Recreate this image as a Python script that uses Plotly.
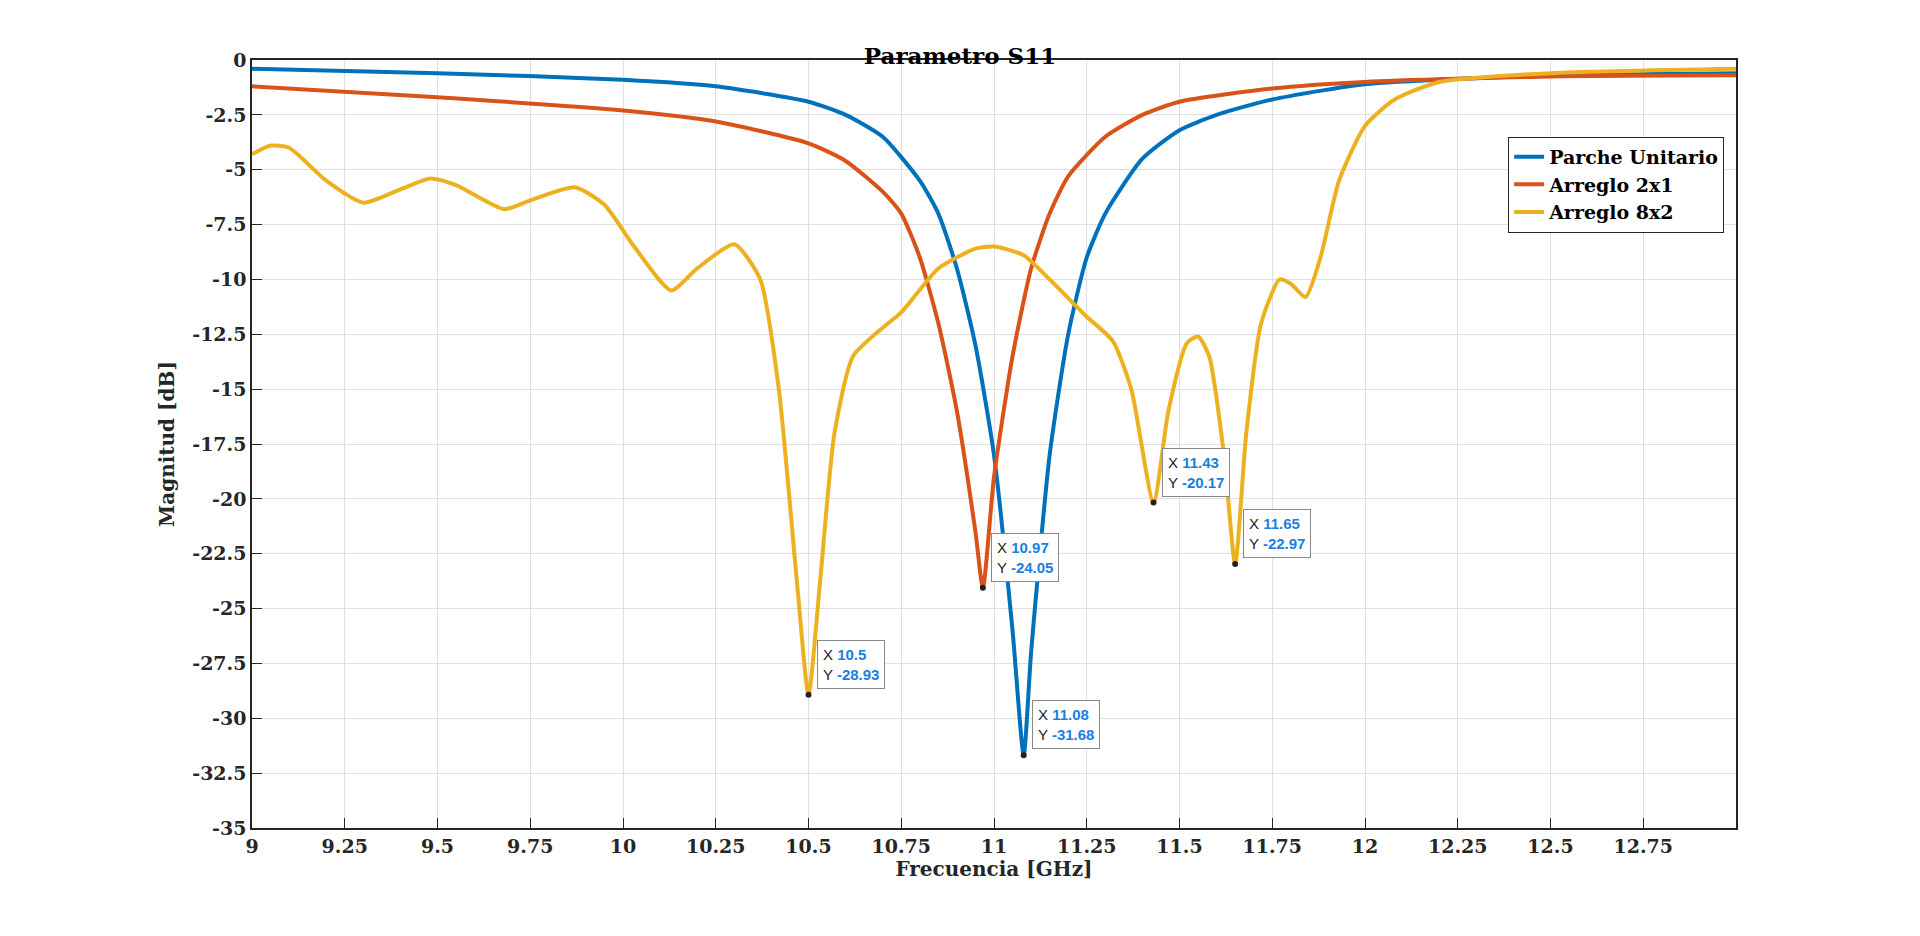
import plotly.graph_objects as go

x_pu = [9, 9.5, 10, 10.25, 10.5, 10.6, 10.7, 10.8, 10.85, 10.9, 10.95, 11.0, 11.05, 11.08, 11.1, 11.15, 11.2, 11.25, 11.3, 11.4, 11.5, 11.6, 11.75, 12, 12.5, 13]
y_pu = [-0.4, -0.6, -0.9, -1.2, -1.9, -2.5, -3.5, -5.5, -7, -9.5, -13, -18, -26, -31.68, -27, -18, -12.5, -9, -7, -4.5, -3.2, -2.5, -1.8, -1.1, -0.7, -0.6]

x_21 = [9, 9.5, 10, 10.25, 10.5, 10.6, 10.7, 10.75, 10.8, 10.85, 10.9, 10.95, 10.97, 11.0, 11.05, 11.1, 11.15, 11.2, 11.3, 11.4, 11.5, 11.75, 12, 12.5, 13]
y_21 = [-1.2, -1.7, -2.3, -2.8, -3.8, -4.6, -6, -7, -9, -12, -16, -21.5, -24.05, -19, -13.5, -9.5, -7, -5.3, -3.5, -2.5, -1.9, -1.3, -1.0, -0.75, -0.7]

x_82 = [9, 9.05, 9.1, 9.2, 9.3, 9.4, 9.48, 9.55, 9.68, 9.75, 9.87, 9.95, 10.03, 10.13, 10.2, 10.3, 10.37, 10.42, 10.47, 10.5, 10.53, 10.57, 10.62, 10.7, 10.75, 10.85, 10.95, 11.0, 11.08, 11.15, 11.25, 11.32, 11.37, 11.43, 11.47, 11.52, 11.55, 11.58, 11.62, 11.65, 11.68, 11.72, 11.77, 11.8, 11.84, 11.88, 11.93, 12.0, 12.08, 12.2, 12.5, 13]
y_82 = [-4.3, -3.9, -4.0, -5.5, -6.5, -5.9, -5.4, -5.7, -6.8, -6.4, -5.8, -6.6, -8.5, -10.5, -9.5, -8.4, -10, -15, -24, -28.93, -24, -17, -13.5, -12.2, -11.5, -9.5, -8.6, -8.5, -8.9, -10, -11.7, -12.8, -15, -20.17, -16, -12.9, -12.6, -13.5, -18, -22.97, -17, -12, -10, -10.2, -10.8, -9, -5.5, -3, -1.8, -1.0, -0.6, -0.4]

tip_x = [10.5, 10.97, 11.08, 11.43, 11.65]
tip_y = [-28.93, -24.05, -31.68, -20.17, -22.97]

names = ["Parche Unitario", "Arreglo 2x1", "Arreglo 8x2"]
colors = ["#0072BD", "#D95319", "#EDB120"]

fig = go.Figure()
for xs, ys, n, c in zip([x_pu, x_21, x_82], [y_pu, y_21, y_82], names, colors):
    fig.add_trace(go.Scatter(x=xs, y=ys, name=f"<b>{n}</b>", mode="lines",
                             line=dict(color=c, width=4, shape="spline", smoothing=0.6)))
fig.add_trace(go.Scatter(x=tip_x, y=tip_y, mode="markers", showlegend=False,
                         marker=dict(color="#222", size=6)))

for tx, ty in zip(tip_x, tip_y):
    fig.add_annotation(x=tx, y=ty, xref="x", yref="y", showarrow=False,
                       xanchor="left", yanchor="bottom", xshift=8, yshift=6, align="left",
                       text=f"X <b><span style='color:#1a7fe0'>{tx:g}</span></b><br>Y <b><span style='color:#1a7fe0'>{ty:.2f}</span></b>",
                       font=dict(family="Liberation Sans, Arial", size=15, color="#222"),
                       bgcolor="white", bordercolor="#888", borderwidth=1, borderpad=5)

tickfont = dict(family="DejaVu Serif", size=19, color="#262626")
ax = dict(showline=True, linecolor="#262626", linewidth=1.5, mirror=True, ticks="inside",
          ticklen=10, tickcolor="#262626", showgrid=True, gridcolor="#dfdfdf", zeroline=False,
          tickfont=tickfont)
xt = [9 + 0.25 * i for i in range(16)]
yt = [-35 + 2.5 * i for i in range(15)]
fig.update_layout(
    paper_bgcolor="white", plot_bgcolor="white",
    margin=dict(l=244, r=176, t=52, b=100),
    title=dict(text="<b>Parametro S11</b>", x=0.5, xanchor="center", y=0.948, yanchor="middle",
               font=dict(family="DejaVu Serif", size=23, color="black")),
    xaxis=dict(range=[9, 13], tickvals=xt, ticktext=[f"<b>{v:g}</b>" for v in xt],
               title=dict(text="<b>Frecuencia [GHz]</b>", font=dict(family="DejaVu Serif", size=20, color="#262626"), standoff=6), **ax),
    yaxis=dict(range=[-35, 0], tickvals=yt, ticktext=[f"<b>{v:g}</b>" for v in yt],
               title=dict(text="<b>Magnitud [dB]</b>", font=dict(family="DejaVu Serif", size=20, color="#262626"), standoff=12), **ax),
    legend=dict(x=0.992, y=0.9, xanchor="right", yanchor="top", bgcolor="white",
                bordercolor="#262626", borderwidth=1,
                font=dict(family="DejaVu Serif", size=19, color="black"), tracegroupgap=0),
    showlegend=True,
)
fig.write_html("out.html")
